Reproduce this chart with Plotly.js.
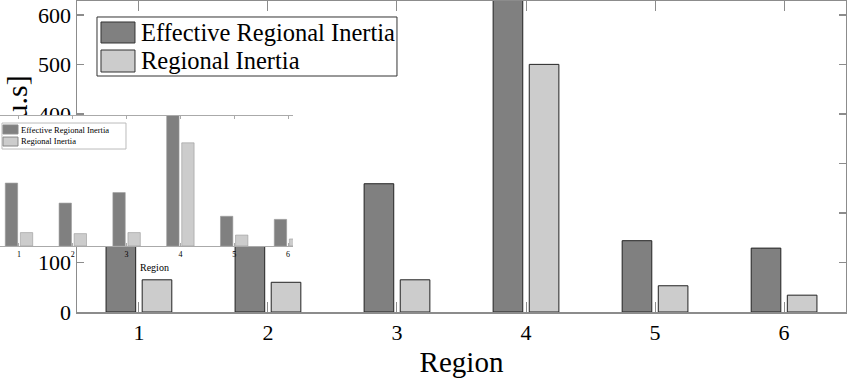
<!DOCTYPE html>
<html>
<head>
<meta charset="utf-8">
<script src="https://cdn.plot.ly/plotly-3.0.1.min.js"></script>
<style>
  body { margin: 0; background: #fff; }
  #main { position: absolute; left: 0; top: 0; width: 847px; height: 379px; }
  #inset { position: absolute; left: 0; top: 114px; width: 300px; height: 172px; }
</style>
</head>
<body>
<div id="main"></div>
<div id="inset"></div>
<script>
// values
const regions = [1, 2, 3, 4, 5, 6];
const effectiveInertia = [305, 208, 259, 690, 144, 129];
const regionalInertia = [65, 60, 65, 500, 53, 34];
const seriesNames = ['Effective Regional Inertia', 'Regional Inertia'];

const serif = 'Liberation Serif, DejaVu Serif, serif';
const darkFill = '#808080';
const lightFill = '#cccccc';
const axisGray = '#8c8c8c';

function barTraces(edgeColor, edgeWidth) {
    return [
        {
            type: 'bar', x: regions, y: effectiveInertia, name: seriesNames[0],
            marker: { color: darkFill, line: { color: edgeColor, width: edgeWidth } }
        },
        {
            type: 'bar', x: regions, y: regionalInertia, name: seriesNames[1],
            marker: { color: lightFill, line: { color: edgeColor, width: edgeWidth } }
        }
    ];
}

// legend box drawn by hand (matlab style big swatches), coords in paper units
function legendBox(box, swatches, textX, textY, fontSize, borderColor, swatchEdge) {
    const shapes = [{
        type: 'rect', xref: 'paper', yref: 'paper',
        x0: box[0], x1: box[1], y0: box[2], y1: box[3],
        fillcolor: '#fff', line: { color: borderColor, width: 1 }, layer: 'above'
    }];
    const fills = [darkFill, lightFill];
    swatches.forEach((s, i) => {
        shapes.push({
            type: 'rect', xref: 'paper', yref: 'paper',
            x0: s[0], x1: s[1], y0: s[2], y1: s[3],
            fillcolor: fills[i], line: { color: swatchEdge, width: 1 }, layer: 'above'
        });
    });
    const annotations = seriesNames.map((name, i) => ({
        xref: 'paper', yref: 'paper', x: textX, y: textY[i],
        xanchor: 'left', yanchor: 'middle', text: name, showarrow: false,
        font: { family: serif, size: fontSize, color: '#000' }
    }));
    return { shapes, annotations };
}

const mainLegend = legendBox(
    [0.026, 0.4161, 0.7588, 0.9486],
    [[0.0312, 0.0754, 0.865, 0.9325], [0.0312, 0.0754, 0.7717, 0.8424]],
    0.0806, [0.9, 0.808], 24.5, '#333', '#333'
);

// main chart
const mainLayout = {
    width: 847, height: 379,
    margin: { l: 77, r: 1, t: 1, b: 67 },
    paper_bgcolor: '#fff', plot_bgcolor: '#fff',
    font: { family: serif, color: '#000' },
    barmode: 'group', bargap: 0.44, bargroupgap: 0.18,
    showlegend: false,
    xaxis: {
        range: [0.52, 6.48], tickvals: regions, ticktext: regions.map(String),
        ticks: 'inside', ticklen: 10, tickcolor: axisGray, tickwidth: 1,
        showline: true, linecolor: axisGray, linewidth: 1.5, mirror: 'ticks',
        showgrid: false, zeroline: false,
        tickfont: { size: 22 },
        title: { text: 'Region', font: { size: 29 }, standoff: 8 }
    },
    yaxis: {
        range: [0, 628], tickvals: [0, 100, 200, 300, 400, 500, 600],
        ticks: 'inside', ticklen: 7, tickcolor: axisGray, tickwidth: 1.5,
        showline: true, linecolor: axisGray, linewidth: 1.5, mirror: 'ticks',
        showgrid: false, zeroline: false,
        tickfont: { size: 22 },
        title: { text: 'Inertia [p.u.s]', font: { size: 30 }, standoff: 8 }
    },
    shapes: mainLegend.shapes,
    annotations: mainLegend.annotations
};

Plotly.newPlot('main', barTraces('#222', 1), mainLayout, { displayModeBar: false, staticPlot: true });

// small copy of the chart pasted over the left side
const insetLegend = legendBox(
    [0.0068, 0.43, 0.746, 0.946],
    [[0.0102, 0.0614, 0.862, 0.931], [0.0102, 0.0614, 0.769, 0.838]],
    0.065, [0.896, 0.804], 8.5, '#bbb', '#888'
);
insetLegend.annotations.push({
    xref: 'paper', yref: 'paper', x: 0.5256, y: -0.165,
    xanchor: 'center', yanchor: 'middle', text: 'Region', showarrow: false,
    font: { family: serif, size: 10, color: '#000' }
});

const insetLayout = {
    width: 300, height: 172,
    margin: { l: 0, r: 7, t: 2, b: 40 },
    paper_bgcolor: 'rgba(0,0,0,0)', plot_bgcolor: '#fff',
    font: { family: serif, color: '#000' },
    barmode: 'group', bargap: 0.44, bargroupgap: 0.18,
    showlegend: false,
    xaxis: {
        range: [0.647, 6.093], tickvals: regions, ticktext: regions.map(String),
        ticks: 'inside', ticklen: 3, tickcolor: '#aaa', tickwidth: 1,
        showline: true, linecolor: '#aaa', linewidth: 1, mirror: 'ticks',
        showgrid: false, zeroline: false,
        tickfont: { size: 8 }
    },
    yaxis: {
        range: [0, 630], showticklabels: false, ticks: '',
        showline: false, showgrid: false, zeroline: false
    },
    shapes: insetLegend.shapes,
    annotations: insetLegend.annotations
};

Plotly.newPlot('inset', barTraces('#999', 0.6), insetLayout, { displayModeBar: false, staticPlot: true });
</script>
</body>
</html>
